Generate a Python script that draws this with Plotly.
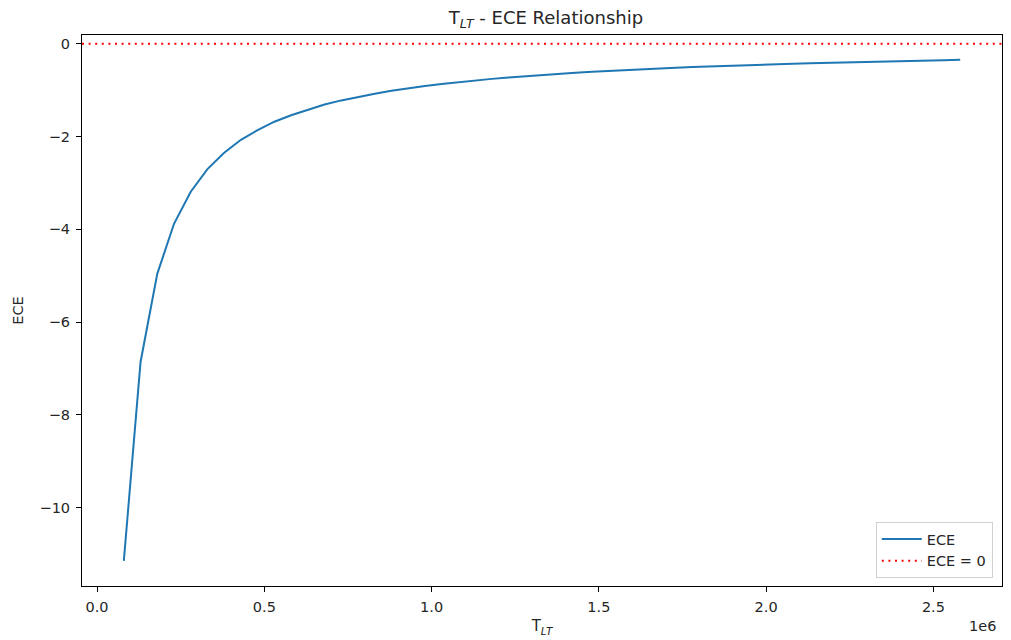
import plotly.graph_objects as go

# T_LT sample points (seconds) and the corresponding ECE values
t_lt = [80000, 130000, 180000, 230000, 280000, 330000, 380000, 430000, 480000, 530000,
        580000, 630000, 680000, 730000, 780000, 830000, 880000, 930000, 980000, 1030000,
        1080000, 1130000, 1180000, 1230000, 1280000, 1330000, 1380000, 1430000, 1480000, 1530000,
        1580000, 1630000, 1680000, 1730000, 1780000, 1830000, 1880000, 1930000, 1980000, 2030000,
        2080000, 2130000, 2180000, 2230000, 2280000, 2330000, 2380000, 2430000, 2480000, 2530000,
        2580000]
ece = [-11.15, -6.86, -4.96, -3.88, -3.19, -2.70, -2.35, -2.07, -1.86, -1.68,
       -1.54, -1.42, -1.31, -1.22, -1.14, -1.075, -1.014, -0.959, -0.910, -0.866,
       -0.826, -0.789, -0.756, -0.725, -0.697, -0.671, -0.646, -0.624, -0.603, -0.583,
       -0.565, -0.547, -0.531, -0.516, -0.501, -0.487, -0.474, -0.462, -0.451, -0.439,
       -0.429, -0.419, -0.409, -0.400, -0.391, -0.383, -0.375, -0.367, -0.360, -0.353,
       -0.346]

x_ticks = [0, 500000, 1000000, 1500000, 2000000, 2500000]
x_tick_text = ["0.0", "0.5", "1.0", "1.5", "2.0", "2.5"]
y_ticks = [0, -2, -4, -6, -8, -10]
y_tick_text = ["0", "−2", "−4", "−6", "−8", "−10"]

FONT = "DejaVu Sans"
TXT = "#262626"

fig = go.Figure()
fig.add_trace(go.Scatter(x=t_lt, y=ece, mode="lines", name="ECE",
                         line=dict(color="#1f77b4", width=2)))
fig.add_trace(go.Scatter(x=[-45000, 2705000], y=[0, 0], mode="lines", name="ECE = 0",
                         line=dict(color="#ff0000", width=2, dash="2px,4.6px")))

axis_common = dict(showgrid=False, zeroline=False, showline=True, linecolor="#000000",
                   linewidth=1, mirror=True, ticks="outside", ticklen=5, tickwidth=1,
                   tickcolor="#000000", ticklabelstandoff=3,
                   tickfont=dict(family=FONT, size=14.5, color=TXT))

fig.update_layout(
    width=1011, height=640,
    margin=dict(l=82, r=9, t=35, b=54),
    paper_bgcolor="white", plot_bgcolor="white",
    font=dict(family=FONT, color=TXT),
    title=dict(text="T<sub><i>LT</i></sub> - ECE Relationship", x=0.54, xanchor="center",
               y=1 - 18 / 640, yanchor="middle", font=dict(family=FONT, size=18, color=TXT)),
    xaxis=dict(range=[-45000, 2705000], tickvals=x_ticks, ticktext=x_tick_text,
               title=dict(text="T<sub><i>LT</i></sub>", font=dict(family=FONT, size=15, color=TXT),
                          standoff=6),
               **axis_common),
    yaxis=dict(range=[-11.69, 0.19], tickvals=y_ticks, ticktext=y_tick_text,
               title=dict(text="ECE", font=dict(family=FONT, size=14.5, color=TXT), standoff=12),
               **axis_common),
    legend=dict(x=0.990, y=0.0145, xanchor="right", yanchor="bottom",
                bgcolor="rgba(255,255,255,0.8)", bordercolor="#d0d0d0", borderwidth=1,
                itemwidth=40, font=dict(family=FONT, size=14.5, color=TXT)),
    showlegend=True,
    annotations=[dict(text="1e6", xref="paper", yref="paper", x=0.9957, y=-0.0726,
                      xanchor="right", yanchor="middle", showarrow=False,
                      font=dict(family=FONT, size=14.5, color=TXT))],
)

fig.write_html("out.html")
